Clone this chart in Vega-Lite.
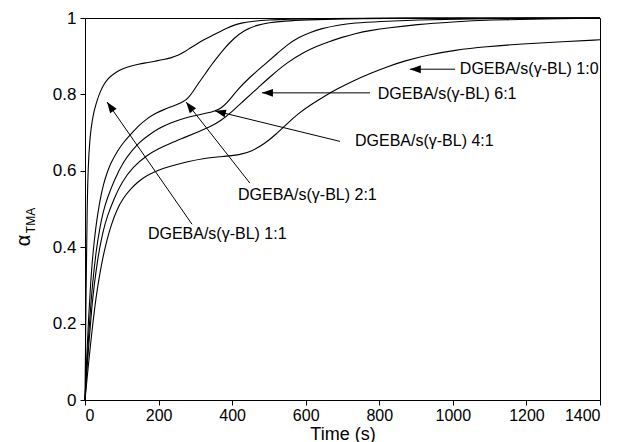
{
  "$schema": "https://vega.github.io/schema/vega-lite/v6.json",
  "width": 515,
  "height": 382,
  "autosize": {"type": "none"},
  "padding": {"left": 85, "top": 18, "right": 26, "bottom": 42},
  "background": "white",
  "config": {
    "view": {"stroke": "black", "strokeWidth": 1},
    "font": "Liberation Sans",
    "axis": {
      "grid": false,
      "domainColor": "black",
      "tickColor": "black",
      "labelColor": "black",
      "titleColor": "black",
      "titleFontWeight": "normal",
      "labelFontSize": 17,
      "tickSize": 5
    }
  },
  "datasets": {
    "curves": [
      {"s": "1:1", "t": 0, "a": 0}, {"s": "1:1", "t": 3, "a": 0.3}, {"s": "1:1", "t": 6, "a": 0.52}, {"s": "1:1", "t": 9, "a": 0.62}, {"s": "1:1", "t": 13, "a": 0.68}, {"s": "1:1", "t": 17, "a": 0.715}, {"s": "1:1", "t": 22, "a": 0.745}, {"s": "1:1", "t": 27, "a": 0.765}, {"s": "1:1", "t": 34, "a": 0.788}, {"s": "1:1", "t": 41, "a": 0.806}, {"s": "1:1", "t": 50, "a": 0.824}, {"s": "1:1", "t": 59, "a": 0.837}, {"s": "1:1", "t": 70, "a": 0.848}, {"s": "1:1", "t": 87, "a": 0.86}, {"s": "1:1", "t": 105, "a": 0.868}, {"s": "1:1", "t": 123, "a": 0.874}, {"s": "1:1", "t": 145, "a": 0.879}, {"s": "1:1", "t": 168, "a": 0.883}, {"s": "1:1", "t": 190, "a": 0.887}, {"s": "1:1", "t": 214, "a": 0.891}, {"s": "1:1", "t": 235, "a": 0.896}, {"s": "1:1", "t": 255, "a": 0.903}, {"s": "1:1", "t": 270, "a": 0.911}, {"s": "1:1", "t": 287, "a": 0.922}, {"s": "1:1", "t": 305, "a": 0.933}, {"s": "1:1", "t": 323, "a": 0.943}, {"s": "1:1", "t": 350, "a": 0.956}, {"s": "1:1", "t": 368, "a": 0.965}, {"s": "1:1", "t": 385, "a": 0.973}, {"s": "1:1", "t": 404, "a": 0.981}, {"s": "1:1", "t": 425, "a": 0.987}, {"s": "1:1", "t": 450, "a": 0.991}, {"s": "1:1", "t": 500, "a": 0.995}, {"s": "1:1", "t": 550, "a": 0.997}, {"s": "1:1", "t": 650, "a": 0.999}, {"s": "1:1", "t": 800, "a": 1.0}, {"s": "1:1", "t": 1400, "a": 1.0},
      {"s": "2:1", "t": 0, "a": 0}, {"s": "2:1", "t": 5, "a": 0.12}, {"s": "2:1", "t": 10, "a": 0.22}, {"s": "2:1", "t": 15, "a": 0.3}, {"s": "2:1", "t": 20, "a": 0.37}, {"s": "2:1", "t": 30, "a": 0.46}, {"s": "2:1", "t": 40, "a": 0.52}, {"s": "2:1", "t": 50, "a": 0.565}, {"s": "2:1", "t": 60, "a": 0.595}, {"s": "2:1", "t": 70, "a": 0.62}, {"s": "2:1", "t": 87, "a": 0.65}, {"s": "2:1", "t": 105, "a": 0.675}, {"s": "2:1", "t": 123, "a": 0.694}, {"s": "2:1", "t": 145, "a": 0.718}, {"s": "2:1", "t": 168, "a": 0.736}, {"s": "2:1", "t": 190, "a": 0.75}, {"s": "2:1", "t": 214, "a": 0.76}, {"s": "2:1", "t": 232, "a": 0.767}, {"s": "2:1", "t": 250, "a": 0.773}, {"s": "2:1", "t": 268, "a": 0.781}, {"s": "2:1", "t": 280, "a": 0.79}, {"s": "2:1", "t": 292, "a": 0.805}, {"s": "2:1", "t": 305, "a": 0.824}, {"s": "2:1", "t": 318, "a": 0.842}, {"s": "2:1", "t": 332, "a": 0.861}, {"s": "2:1", "t": 345, "a": 0.879}, {"s": "2:1", "t": 359, "a": 0.896}, {"s": "2:1", "t": 380, "a": 0.922}, {"s": "2:1", "t": 405, "a": 0.947}, {"s": "2:1", "t": 432, "a": 0.968}, {"s": "2:1", "t": 469, "a": 0.982}, {"s": "2:1", "t": 500, "a": 0.988}, {"s": "2:1", "t": 541, "a": 0.992}, {"s": "2:1", "t": 600, "a": 0.995}, {"s": "2:1", "t": 700, "a": 0.998}, {"s": "2:1", "t": 850, "a": 1.0}, {"s": "2:1", "t": 1400, "a": 1.0},
      {"s": "4:1", "t": 0, "a": 0}, {"s": "4:1", "t": 5, "a": 0.09}, {"s": "4:1", "t": 10, "a": 0.17}, {"s": "4:1", "t": 15, "a": 0.24}, {"s": "4:1", "t": 20, "a": 0.3}, {"s": "4:1", "t": 30, "a": 0.39}, {"s": "4:1", "t": 40, "a": 0.45}, {"s": "4:1", "t": 50, "a": 0.495}, {"s": "4:1", "t": 60, "a": 0.527}, {"s": "4:1", "t": 80, "a": 0.577}, {"s": "4:1", "t": 105, "a": 0.625}, {"s": "4:1", "t": 130, "a": 0.656}, {"s": "4:1", "t": 150, "a": 0.676}, {"s": "4:1", "t": 168, "a": 0.69}, {"s": "4:1", "t": 200, "a": 0.711}, {"s": "4:1", "t": 232, "a": 0.725}, {"s": "4:1", "t": 260, "a": 0.735}, {"s": "4:1", "t": 287, "a": 0.742}, {"s": "4:1", "t": 320, "a": 0.749}, {"s": "4:1", "t": 350, "a": 0.755}, {"s": "4:1", "t": 370, "a": 0.763}, {"s": "4:1", "t": 392, "a": 0.784}, {"s": "4:1", "t": 414, "a": 0.812}, {"s": "4:1", "t": 450, "a": 0.847}, {"s": "4:1", "t": 487, "a": 0.877}, {"s": "4:1", "t": 520, "a": 0.905}, {"s": "4:1", "t": 550, "a": 0.93}, {"s": "4:1", "t": 580, "a": 0.949}, {"s": "4:1", "t": 614, "a": 0.963}, {"s": "4:1", "t": 641, "a": 0.972}, {"s": "4:1", "t": 690, "a": 0.982}, {"s": "4:1", "t": 731, "a": 0.987}, {"s": "4:1", "t": 800, "a": 0.991}, {"s": "4:1", "t": 900, "a": 0.995}, {"s": "4:1", "t": 1050, "a": 0.998}, {"s": "4:1", "t": 1200, "a": 1.0}, {"s": "4:1", "t": 1400, "a": 1.0},
      {"s": "6:1", "t": 0, "a": 0}, {"s": "6:1", "t": 5, "a": 0.08}, {"s": "6:1", "t": 10, "a": 0.14}, {"s": "6:1", "t": 15, "a": 0.2}, {"s": "6:1", "t": 20, "a": 0.26}, {"s": "6:1", "t": 30, "a": 0.34}, {"s": "6:1", "t": 40, "a": 0.4}, {"s": "6:1", "t": 50, "a": 0.445}, {"s": "6:1", "t": 60, "a": 0.48}, {"s": "6:1", "t": 80, "a": 0.53}, {"s": "6:1", "t": 100, "a": 0.57}, {"s": "6:1", "t": 130, "a": 0.61}, {"s": "6:1", "t": 170, "a": 0.642}, {"s": "6:1", "t": 200, "a": 0.658}, {"s": "6:1", "t": 232, "a": 0.672}, {"s": "6:1", "t": 270, "a": 0.687}, {"s": "6:1", "t": 305, "a": 0.701}, {"s": "6:1", "t": 340, "a": 0.715}, {"s": "6:1", "t": 368, "a": 0.73}, {"s": "6:1", "t": 400, "a": 0.755}, {"s": "6:1", "t": 432, "a": 0.784}, {"s": "6:1", "t": 470, "a": 0.817}, {"s": "6:1", "t": 505, "a": 0.848}, {"s": "6:1", "t": 550, "a": 0.884}, {"s": "6:1", "t": 596, "a": 0.911}, {"s": "6:1", "t": 630, "a": 0.926}, {"s": "6:1", "t": 660, "a": 0.937}, {"s": "6:1", "t": 700, "a": 0.95}, {"s": "6:1", "t": 732, "a": 0.959}, {"s": "6:1", "t": 780, "a": 0.968}, {"s": "6:1", "t": 823, "a": 0.974}, {"s": "6:1", "t": 900, "a": 0.983}, {"s": "6:1", "t": 1000, "a": 0.99}, {"s": "6:1", "t": 1100, "a": 0.995}, {"s": "6:1", "t": 1250, "a": 0.998}, {"s": "6:1", "t": 1400, "a": 1.0},
      {"s": "1:0", "t": 0, "a": 0}, {"s": "1:0", "t": 5, "a": 0.05}, {"s": "1:0", "t": 10, "a": 0.1}, {"s": "1:0", "t": 20, "a": 0.19}, {"s": "1:0", "t": 30, "a": 0.27}, {"s": "1:0", "t": 40, "a": 0.33}, {"s": "1:0", "t": 50, "a": 0.38}, {"s": "1:0", "t": 60, "a": 0.42}, {"s": "1:0", "t": 70, "a": 0.455}, {"s": "1:0", "t": 87, "a": 0.5}, {"s": "1:0", "t": 105, "a": 0.53}, {"s": "1:0", "t": 123, "a": 0.552}, {"s": "1:0", "t": 145, "a": 0.572}, {"s": "1:0", "t": 168, "a": 0.588}, {"s": "1:0", "t": 200, "a": 0.602}, {"s": "1:0", "t": 232, "a": 0.612}, {"s": "1:0", "t": 280, "a": 0.624}, {"s": "1:0", "t": 323, "a": 0.633}, {"s": "1:0", "t": 380, "a": 0.638}, {"s": "1:0", "t": 423, "a": 0.642}, {"s": "1:0", "t": 455, "a": 0.652}, {"s": "1:0", "t": 487, "a": 0.67}, {"s": "1:0", "t": 520, "a": 0.696}, {"s": "1:0", "t": 550, "a": 0.724}, {"s": "1:0", "t": 580, "a": 0.75}, {"s": "1:0", "t": 614, "a": 0.773}, {"s": "1:0", "t": 650, "a": 0.795}, {"s": "1:0", "t": 687, "a": 0.815}, {"s": "1:0", "t": 730, "a": 0.836}, {"s": "1:0", "t": 778, "a": 0.856}, {"s": "1:0", "t": 820, "a": 0.872}, {"s": "1:0", "t": 869, "a": 0.888}, {"s": "1:0", "t": 930, "a": 0.903}, {"s": "1:0", "t": 1005, "a": 0.916}, {"s": "1:0", "t": 1090, "a": 0.925}, {"s": "1:0", "t": 1187, "a": 0.932}, {"s": "1:0", "t": 1300, "a": 0.938}, {"s": "1:0", "t": 1400, "a": 0.943}
    ],
    "notes": [
      {"s": "1:1", "label": "DGEBA/s(γ-BL) 1:1", "tx": 171, "ty": 0.434, "x1": 291, "y1": 0.46, "x2": 60, "y2": 0.78},
      {"s": "2:1", "label": "DGEBA/s(γ-BL) 2:1", "tx": 416, "ty": 0.537, "x1": 448, "y1": 0.568, "x2": 275, "y2": 0.78},
      {"s": "4:1", "label": "DGEBA/s(γ-BL) 4:1", "tx": 734, "ty": 0.677, "x1": 693, "y1": 0.677, "x2": 353, "y2": 0.757},
      {"s": "6:1", "label": "DGEBA/s(γ-BL) 6:1", "tx": 796, "ty": 0.801, "x1": 775, "y1": 0.804, "x2": 481, "y2": 0.804},
      {"s": "1:0", "label": "DGEBA/s(γ-BL) 1:0", "tx": 1019, "ty": 0.866, "x1": 1006, "y1": 0.866, "x2": 883, "y2": 0.866}
    ]
  },
  "layer": [
    {
      "data": {"name": "curves"},
      "mark": {"type": "line", "color": "black", "strokeWidth": 1.1, "interpolate": "basis"},
      "encoding": {
        "x": {"field": "t", "type": "quantitative", "scale": {"domain": [0, 1400], "nice": false},
          "axis": {"title": "Time (s)", "values": [0, 200, 400, 600, 800, 1000, 1200, 1400], "format": "d", "labelFontSize": 16, "titleFontSize": 18, "labelPadding": 2, "titleBaseline": "alphabetic", "titleY": 39}},
        "y": {"field": "a", "type": "quantitative", "scale": {"domain": [0, 1], "nice": false},
          "axis": {"title": "α", "values": [0, 0.2, 0.4, 0.6, 0.8, 1], "format": "~g", "labelPadding": 4, "titleFontSize": 20, "titleAngle": -90, "titleAlign": "center", "titleBaseline": "alphabetic", "titleX": -56, "titleY": 222}},
        "detail": {"field": "s"}
      }
    },
    {
      "data": {"name": "notes"},
      "mark": {"type": "rule", "color": "black", "strokeWidth": 1},
      "encoding": {
        "x": {"field": "x1", "type": "quantitative"},
        "y": {"field": "y1", "type": "quantitative",
          "axis": {"orient": "left", "title": "TMA", "labels": false, "ticks": false, "domain": false, "titleFontSize": 12, "titleAngle": -90, "titleAlign": "center", "titleBaseline": "alphabetic", "titleX": -51, "titleY": 202}},
        "x2": {"field": "x2"},
        "y2": {"field": "y2"}
      }
    },
    {
      "data": {"name": "notes"},
      "transform": [{"filter": "datum.s == '1:0' || datum.s == '6:1'"}],
      "mark": {"type": "point", "shape": "M0,0L-0.36,1L0.36,1Z", "filled": true, "color": "black", "opacity": 1, "size": 484, "angle": 270},
      "encoding": {
        "x": {"field": "x2", "type": "quantitative"},
        "y": {"field": "y2", "type": "quantitative", "axis": null}
      }
    },
    {
      "data": {"name": "notes"},
      "transform": [{"filter": "datum.s == '4:1'"}],
      "mark": {"type": "point", "shape": "M0,0L-0.36,1L0.36,1Z", "filled": true, "color": "black", "opacity": 1, "size": 484, "angle": 284},
      "encoding": {
        "x": {"field": "x2", "type": "quantitative"},
        "y": {"field": "y2", "type": "quantitative", "axis": null}
      }
    },
    {
      "data": {"name": "notes"},
      "transform": [{"filter": "datum.s == '2:1'"}],
      "mark": {"type": "point", "shape": "M0,0L-0.36,1L0.36,1Z", "filled": true, "color": "black", "opacity": 1, "size": 484, "angle": 322},
      "encoding": {
        "x": {"field": "x2", "type": "quantitative"},
        "y": {"field": "y2", "type": "quantitative", "axis": null}
      }
    },
    {
      "data": {"name": "notes"},
      "transform": [{"filter": "datum.s == '1:1'"}],
      "mark": {"type": "point", "shape": "M0,0L-0.36,1L0.36,1Z", "filled": true, "color": "black", "opacity": 1, "size": 484, "angle": 325},
      "encoding": {
        "x": {"field": "x2", "type": "quantitative"},
        "y": {"field": "y2", "type": "quantitative", "axis": null}
      }
    },
    {
      "data": {"name": "notes"},
      "mark": {"type": "text", "align": "left", "baseline": "middle", "fontSize": 16, "color": "black"},
      "encoding": {
        "x": {"field": "tx", "type": "quantitative"},
        "y": {"field": "ty", "type": "quantitative", "axis": null},
        "text": {"field": "label"}
      }
    }
  ],
  "resolve": {"axis": {"y": "independent"}}
}
